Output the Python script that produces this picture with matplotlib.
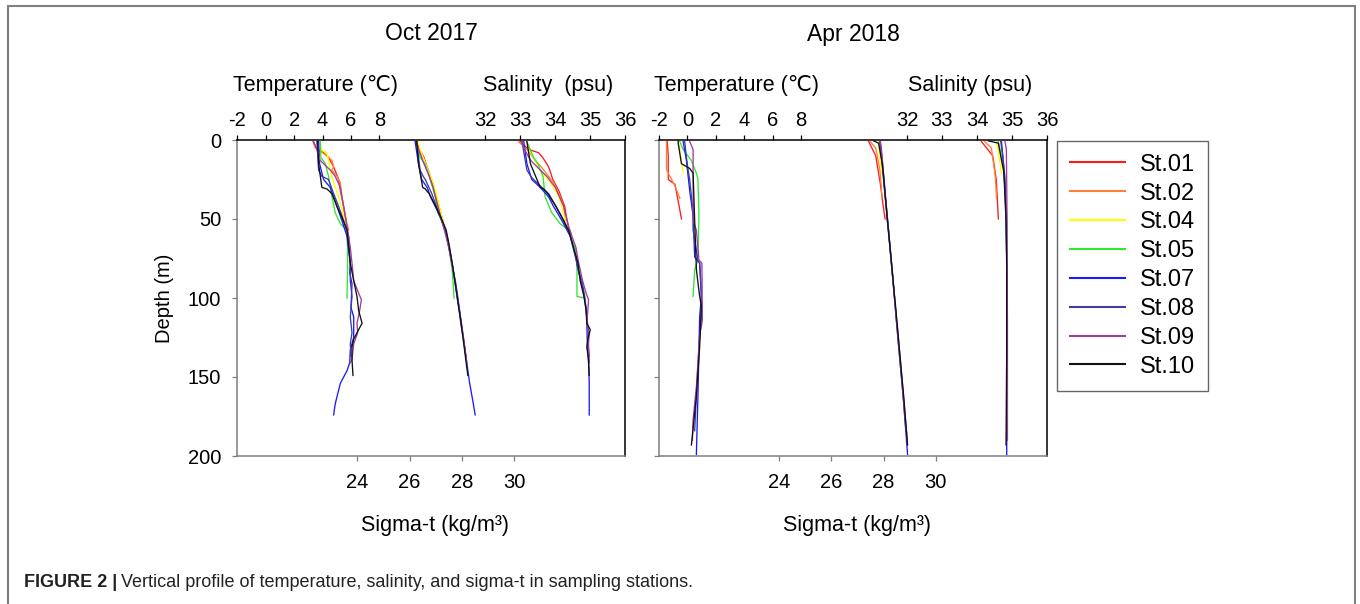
import matplotlib
matplotlib.use("Agg")
import matplotlib.pyplot as plt
from matplotlib import font_manager
from matplotlib.patches import Rectangle
from matplotlib.text import Annotation
from matplotlib.lines import Line2D

plt.rcParams['font.family'] = ['Liberation Sans', 'DejaVu Sans']
plt.rcParams['axes.unicode_minus'] = False

STATIONS = ["St.01", "St.02", "St.04", "St.05", "St.07", "St.08", "St.09", "St.10"]
COLORS = ["#ff1a1a", "#ff7f3a", "#ffff00", "#33e633", "#1a1aff", "#3d3da6", "#a03ca0", "#111111"]

# ---------------- Oct 2017 profiles ----------------
OCT_DEPTH = {
    "St.01": [1, 6, 8, 11, 17, 25, 32, 42, 50, 55, 60],
    "St.02": [1, 5, 7, 10, 13, 17, 19, 23, 27, 36, 42, 53, 57],
    "St.04": [1, 6, 8, 19, 27, 36, 44, 53, 58],
    "St.05": [1, 11, 15, 23, 36, 46, 53, 57, 70, 82, 99, 100],
    "St.07": [1, 15, 25, 30, 36, 42, 51, 61, 78, 84, 91, 106, 112, 125, 133, 141, 146, 154, 167, 174],
    "St.08": [1, 19, 23, 25, 34, 42, 51, 61, 74, 80, 89, 99, 112, 122, 129, 137],
    "St.09": [1, 6, 13, 19, 23, 30, 42, 55, 68, 78, 89, 97, 101, 108, 116, 122, 129, 139, 141],
    "St.10": [1, 15, 30, 31, 34, 42, 49, 57, 68, 78, 89, 99, 108, 116, 120, 126, 131, 139, 149],
}
OCT_TEMP = {
    "St.01": [3.36, 3.60, 4.07, 4.42, 4.78, 5.13, 5.25, 5.48, 5.62, 5.72, 5.79],
    "St.02": [3.32, 3.48, 3.84, 4.31, 4.66, 4.78, 4.66, 5.01, 5.25, 5.36, 5.48, 5.72, 5.84],
    "St.04": [3.84, 3.88, 4.31, 4.54, 4.78, 5.13, 5.36, 5.60, 5.76],
    "St.05": [3.84, 3.88, 4.19, 4.42, 4.66, 4.89, 5.25, 5.72, 5.76, 5.76, 5.72, 5.72],
    "St.07": [3.72, 3.79, 4.07, 4.54, 4.78, 5.01, 5.36, 5.72, 5.95, 5.91, 6.07, 6.00, 6.19, 6.19, 5.95, 5.91, 5.72, 5.25, 4.89, 4.78],
    "St.08": [3.60, 3.72, 3.95, 4.42, 4.78, 5.13, 5.48, 5.84, 5.91, 5.95, 5.95, 6.07, 5.95, 6.07, 5.95, 6.00],
    "St.09": [3.36, 3.60, 3.84, 4.54, 4.89, 5.25, 5.48, 5.72, 5.95, 6.07, 6.19, 6.54, 6.73, 6.61, 6.42, 6.47, 6.19, 6.07, 5.95],
    "St.10": [3.65, 3.72, 3.95, 4.31, 4.66, 5.01, 5.36, 5.72, 5.84, 5.95, 6.19, 6.42, 6.54, 6.78, 6.54, 6.19, 6.07, 6.07, 6.14],
}
OCT_SAL = {
    "St.01": [33.00, 33.24, 33.52, 33.64, 33.81, 33.93, 34.10, 34.27, 34.33, 34.38, 34.46],
    "St.02": [32.95, 33.14, 33.24, 33.33, 33.43, 33.60, 33.67, 33.81, 33.95, 34.14, 34.24, 34.29, 34.33],
    "St.04": [33.19, 33.24, 33.30, 33.57, 33.86, 34.10, 34.21, 34.30, 34.34],
    "St.05": [33.19, 33.38, 33.50, 33.65, 33.71, 33.90, 34.14, 34.38, 34.59, 34.62, 34.62, 34.84],
    "St.07": [33.10, 33.19, 33.33, 33.57, 33.81, 33.95, 34.19, 34.43, 34.62, 34.67, 34.76, 34.88, 34.90, 34.91, 34.93, 34.95, 34.96, 34.97, 34.97, 34.97],
    "St.08": [33.05, 33.19, 33.30, 33.38, 33.81, 34.02, 34.24, 34.43, 34.59, 34.63, 34.76, 34.84, 34.90, 34.95, 34.93, 34.97],
    "St.09": [33.05, 33.12, 33.30, 33.57, 33.76, 34.00, 34.24, 34.38, 34.59, 34.67, 34.78, 34.88, 34.95, 34.93, 34.90, 34.97, 34.95, 34.97, 34.97],
    "St.10": [33.19, 33.29, 33.57, 33.67, 33.79, 34.02, 34.19, 34.38, 34.52, 34.65, 34.71, 34.82, 34.88, 34.90, 35.00, 34.93, 34.90, 34.95, 34.97],
}
OCT_SIG = {
    "St.01": [26.27, 26.35, 26.45, 26.55, 26.66, 26.80, 26.95, 27.12, 27.25, 27.33, 27.40],
    "St.02": [26.22, 26.30, 26.38, 26.48, 26.58, 26.66, 26.72, 26.80, 26.88, 27.02, 27.12, 27.30, 27.36],
    "St.04": [26.33, 26.40, 26.45, 26.70, 26.90, 27.05, 27.17, 27.30, 27.38],
    "St.05": [26.27, 26.40, 26.59, 26.76, 26.98, 27.08, 27.28, 27.38, 27.52, 27.63, 27.70, 27.70],
    "St.07": [26.21, 26.34, 26.46, 26.67, 26.80, 26.98, 27.24, 27.44, 27.63, 27.69, 27.77, 27.90, 27.95, 28.06, 28.12, 28.19, 28.23, 28.30, 28.44, 28.51],
    "St.08": [26.27, 26.40, 26.52, 26.60, 26.85, 27.02, 27.22, 27.42, 27.57, 27.64, 27.73, 27.82, 27.94, 28.03, 28.09, 28.16],
    "St.09": [26.27, 26.35, 26.50, 26.65, 26.75, 26.90, 27.08, 27.30, 27.50, 27.62, 27.73, 27.80, 27.83, 27.90, 27.96, 28.02, 28.09, 28.17, 28.19],
    "St.10": [26.27, 26.34, 26.50, 26.60, 26.75, 27.00, 27.20, 27.40, 27.53, 27.63, 27.73, 27.82, 27.90, 27.97, 28.00, 28.05, 28.09, 28.15, 28.23],
}

# ---------------- Apr 2018 profiles ----------------
APR_DEPTH = {
    "St.01": [1, 10, 25, 28, 33, 41, 50],
    "St.02": [1, 5, 19, 23, 29, 37],
    "St.04": [1, 13, 21],
    "St.05": [1, 6, 13, 21, 25, 46, 76, 82, 99],
    "St.07": [1, 13, 32, 48, 74, 78, 99, 112, 162, 199],
    "St.08": [1, 11, 19, 25, 36, 46, 57, 76, 78, 95, 112, 131, 162, 184],
    "St.09": [1, 6, 51, 57, 76, 78, 114, 124, 156, 177, 190],
    "St.10": [0.5, 2, 15, 18, 21, 51, 82, 99, 105, 131, 162, 193],
}
APR_TEMP = {
    "St.01": [-1.42, -1.35, -1.35, -0.88, -0.77, -0.60, -0.42],
    "St.02": [-1.47, -1.47, -1.47, -1.23, -0.88, -0.53],
    "St.04": [-0.65, -0.42, -0.30],
    "St.05": [-0.53, -0.30, 0.28, 0.63, 0.74, 0.81, 0.74, 0.51, 0.40],
    "St.07": [-0.30, -0.07, 0.16, 0.40, 0.51, 0.86, 0.98, 0.86, 0.74, 0.63],
    "St.08": [-0.19, -0.07, 0.05, 0.16, 0.28, 0.40, 0.40, 0.74, 0.86, 0.98, 0.98, 0.81, 0.63, 0.51],
    "St.09": [0.16, 0.40, 0.40, 0.63, 0.81, 1.02, 1.05, 0.86, 0.63, 0.40, 0.35],
    "St.10": [-0.65, -0.65, -0.42, 0.16, 0.40, 0.51, 0.63, 0.86, 0.98, 0.86, 0.63, 0.28],
}
APR_SAL = {
    "St.01": [34.13, 34.45, 34.55, 34.56, 34.57, 34.59, 34.61],
    "St.02": [34.22, 34.41, 34.50, 34.52, 34.54, 34.56],
    "St.04": [34.56, 34.65, 34.70],
    "St.05": [34.61, 34.66, 34.72, 34.78, 34.80, 34.82, 34.85, 34.85, 34.85],
    "St.07": [34.70, 34.75, 34.80, 34.83, 34.85, 34.85, 34.85, 34.85, 34.85, 34.85],
    "St.08": [34.68, 34.74, 34.78, 34.80, 34.82, 34.84, 34.85, 34.85, 34.85, 34.85, 34.86, 34.86, 34.86, 34.86],
    "St.09": [34.80, 34.84, 34.86, 34.86, 34.86, 34.86, 34.87, 34.87, 34.87, 34.87, 34.87],
    "St.10": [34.32, 34.61, 34.72, 34.75, 34.77, 34.83, 34.85, 34.85, 34.85, 34.85, 34.84, 34.83],
}
APR_SIG = {
    "St.01": [27.43, 27.70, 27.85, 27.88, 27.92, 27.98, 28.06],
    "St.02": [27.49, 27.70, 27.86, 27.88, 27.91, 27.94],
    "St.04": [27.81, 27.87, 27.94],
    "St.05": [27.87, 27.90, 27.94, 27.98, 28.00, 28.13, 28.30, 28.33, 28.42],
    "St.07": [27.87, 27.95, 28.05, 28.14, 28.28, 28.30, 28.42, 28.48, 28.75, 28.92],
    "St.08": [27.86, 27.92, 27.97, 28.00, 28.06, 28.12, 28.18, 28.29, 28.30, 28.39, 28.48, 28.58, 28.75, 28.86],
    "St.09": [27.88, 27.92, 28.15, 28.19, 28.29, 28.30, 28.50, 28.56, 28.73, 28.84, 28.91],
    "St.10": [27.62, 27.81, 27.95, 27.97, 27.99, 28.15, 28.33, 28.42, 28.46, 28.60, 28.77, 28.92],
}

TEMP_TICKS = [-2, 0, 2, 4, 6, 8]
SAL_TICKS = [32, 33, 34, 35, 36]
SIG_TICKS = [24, 26, 28, 30]
DEPTH_TICKS = [0, 50, 100, 150, 200]

W, H = 1360, 604
fig = plt.figure(figsize=(W / 100, H / 100), dpi=100)


def fx(px):
    return px / W


def fy(py):
    return 1 - py / H


GRAY = "#7f7f7f"
TICK_FS = 14.5
LABEL_FS = 15.5


def draw_panel(left_px, depth, temp, sal, sig, title, sal_label, show_ylabels):
    ax = fig.add_axes([fx(left_px), fy(456), 388 / W, 316 / H])
    ax_t = ax.twiny()
    ax_s = ax.twiny()
    for i, st in enumerate(STATIONS):
        ax_t.plot(temp[st], depth[st], color=COLORS[i], lw=0.95)
        ax_s.plot(sal[st], depth[st], color=COLORS[i], lw=0.95)
        ax.plot(sig[st], depth[st], color=COLORS[i], lw=0.95)

    ax.set_ylim(200, 0)
    ax.set_xlim(19.4, 34.26)
    ax_t.set_xlim(-2, 25.3)
    ax_s.set_xlim(24.92, 36)

    ax.set_xticks(SIG_TICKS)
    ax.set_yticks(DEPTH_TICKS)
    ax_t.set_xticks(TEMP_TICKS)
    ax_s.set_xticks(SAL_TICKS)

    for a in (ax_t, ax_s):
        for sp in a.spines.values():
            sp.set_visible(False)
        a.tick_params(axis="x", direction="out", length=3.5, width=0.9, color="black",
                      labelsize=TICK_FS, pad=4)
    ax.spines["left"].set_color(GRAY)
    ax.spines["bottom"].set_color(GRAY)
    ax.spines["top"].set_color("black")
    ax.spines["right"].set_color("black")
    for sp in ax.spines.values():
        sp.set_linewidth(1.1)
    ax.tick_params(axis="x", direction="out", length=3.5, width=0.9, color=GRAY,
                   labelsize=TICK_FS, pad=9)
    ax.tick_params(axis="y", direction="out", length=3.5, width=0.9, color=GRAY,
                   labelsize=TICK_FS, pad=8, labelleft=show_ylabels)

    cx = left_px + 194
    fig.text(fx(cx), fy(34), title, ha="center", va="center", fontsize=16.5)
    fig.text(fx(left_px + 78), fy(91.5), "Temperature (\u2103)", ha="center", va="baseline",
             fontsize=LABEL_FS)
    fig.text(fx(left_px + 311), fy(91.5), sal_label, ha="center", va="baseline",
             fontsize=LABEL_FS)
    fig.text(fx(left_px + 198), fy(531), "Sigma-t (kg/m\u00b3)", ha="center", va="baseline",
             fontsize=LABEL_FS)
    return ax


ax1 = draw_panel(237.3, OCT_DEPTH, OCT_TEMP, OCT_SAL, OCT_SIG, "Oct 2017", "Salinity  (psu)", True)
ax2 = draw_panel(659, APR_DEPTH, APR_TEMP, APR_SAL, APR_SIG, "Apr 2018", "Salinity (psu)", False)

fig.text(fx(165), fy(298), "Depth (m)", rotation=90, ha="center", va="center", fontsize=14.5)

handles = [Line2D([], [], color=c, lw=1.5) for c in COLORS]
leg = fig.legend(handles, STATIONS, loc="upper left", bbox_to_anchor=(fx(1056.7), fy(140.7)),
                 frameon=True, fancybox=False, edgecolor="#404040", fontsize=17,
                 handlelength=2.33, handletextpad=0.64, labelspacing=0.29, borderpad=0.55,
                 borderaxespad=0)
leg.get_frame().set_linewidth(1.0)

# outer frame of the figure panel
fig.add_artist(Rectangle((fx(8), -0.05), fx(1355) - fx(8), fy(6) + 0.05,
                         transform=fig.transFigure, fill=False, edgecolor=GRAY,
                         lw=1.5, clip_on=False))

# caption: condensed face if available
_names = {f.name for f in font_manager.fontManager.ttflist}
if "Liberation Sans Narrow" in _names:
    cap_family, cap_fs = "Liberation Sans Narrow", 15
else:
    cap_family, cap_fs = "Liberation Sans", 13

cap1 = fig.text(fx(24), fy(591), "FIGURE 2 |", fontweight="bold", fontsize=cap_fs,
                family=cap_family, ha="left", va="bottom", color="#222222")
fig.add_artist(Annotation("Vertical profile of temperature, salinity, and sigma-t in sampling stations.",
                          xy=(1, 0), xycoords=cap1, xytext=(3, 0), textcoords="offset points",
                          ha="left", va="bottom", fontsize=cap_fs, family=cap_family,
                          color="#222222"))

fig.savefig("out.png", dpi=100)
